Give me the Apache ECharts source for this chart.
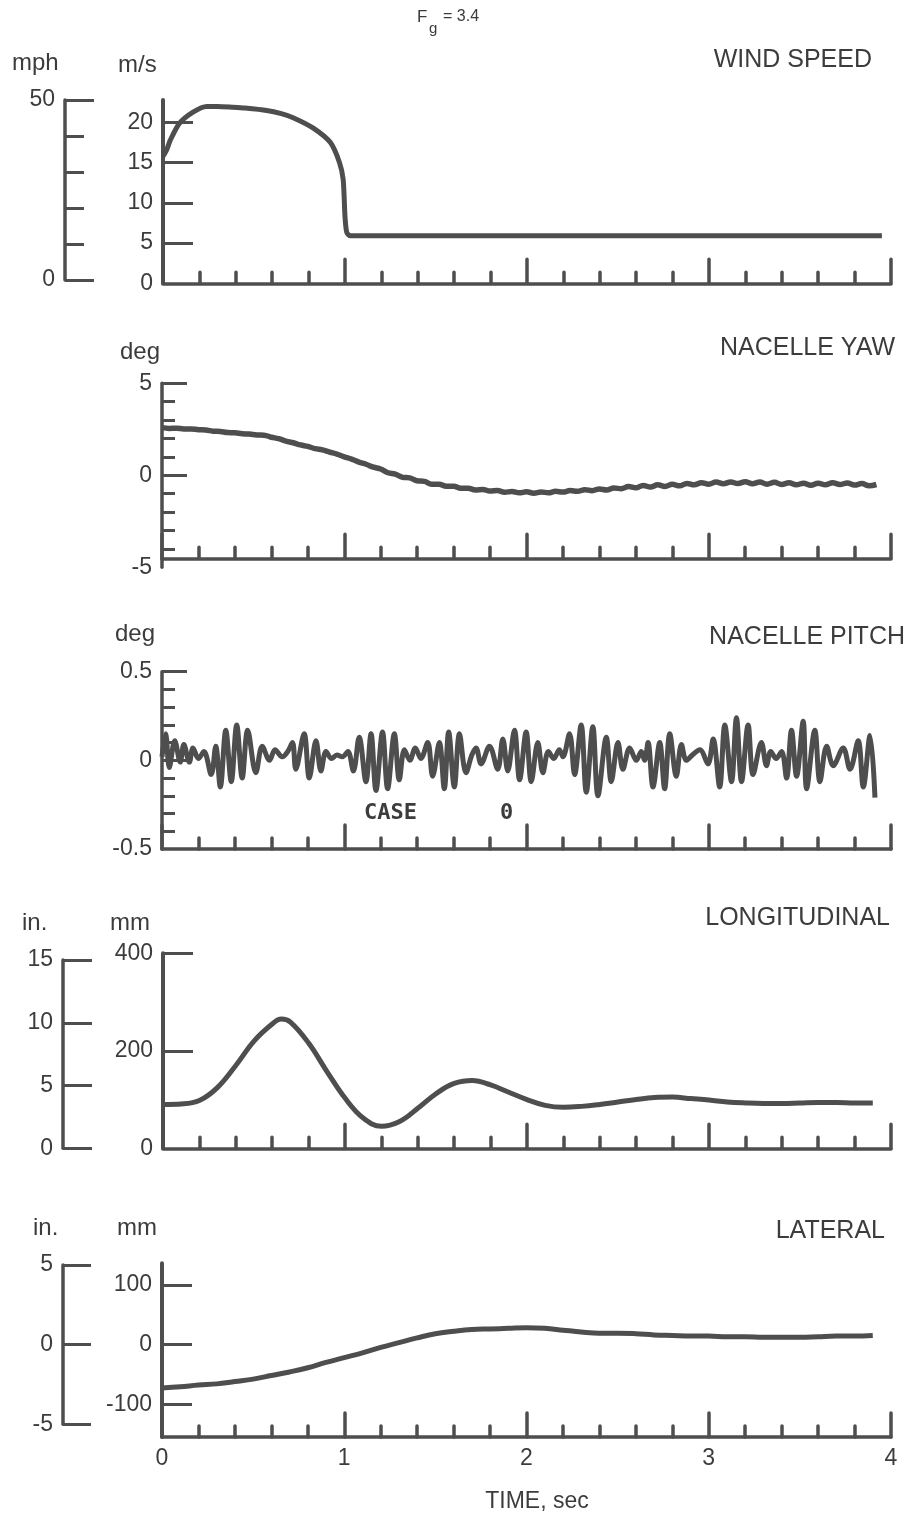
<!DOCTYPE html>
<html>
<head>
<meta charset="utf-8">
<script src="https://cdn.jsdelivr.net/npm/echarts@6/dist/echarts.min.js"></script>
<style>html,body{margin:0;padding:0;background:#fff}#c{width:911px;height:1518px}</style>
</head>
<body>
<div id="c"></div>
<script>
// ---------------- DATA ----------------
var timeTicks = [0, 1, 2, 3, 4];

// Wind speed, m/s
var windT = [0, 0.02, 0.04, 0.09, 0.165, 0.24, 0.3, 0.385, 0.45, 0.57, 0.65, 0.715, 0.826, 0.92, 0.97, 0.99, 1.0, 1.01, 1.03, 3.95];
var windV = [15.8, 16.6, 17.8, 19.9, 21.3, 22.0, 22.0, 21.9, 21.8, 21.5, 21.1, 20.6, 19.3, 17.5, 15.0, 12.9, 8.3, 6.3, 5.9, 5.9];

// Nacelle yaw, deg, sampled every YAW_DT s
var YAW_DT = 0.04;
var yawV = [2.59,2.55,2.56,2.52,2.52,2.48,2.46,2.40,2.38,2.32,2.31,2.26,2.24,2.19,2.18,2.07,1.99,1.86,1.77,1.65,
  1.57,1.45,1.38,1.26,1.15,1.00,0.88,0.72,0.60,0.44,0.34,0.14,0.06,-0.11,-0.14,-0.30,-0.33,-0.48,-0.48,-0.60,
  -0.59,-0.71,-0.70,-0.80,-0.77,-0.86,-0.83,-0.92,-0.88,-0.95,-0.90,-0.97,-0.91,-0.95,-0.87,-0.91,-0.83,-0.87,-0.78,-0.84,
  -0.74,-0.80,-0.69,-0.73,-0.61,-0.68,-0.55,-0.64,-0.52,-0.61,-0.49,-0.57,-0.44,-0.52,-0.40,-0.48,-0.37,-0.46,-0.36,-0.45,
  -0.35,-0.46,-0.37,-0.48,-0.38,-0.50,-0.41,-0.52,-0.43,-0.54,-0.43,-0.52,-0.41,-0.50,-0.42,-0.53,-0.45,-0.57,-0.50];

// Nacelle pitch, deg
var pitchT = [0,0.02,0.04,0.07,0.10,0.12,0.15,0.17,0.20,0.23,0.27,0.295,0.32,0.35,0.38,0.41,0.44,0.47,0.515,0.55,
  0.59,0.62,0.66,0.69,0.716,0.734,0.78,0.808,0.845,0.872,0.90,0.93,0.96,0.99,1.02,1.05,1.082,1.119,1.147,1.174,
  1.21,1.238,1.275,1.302,1.33,1.36,1.39,1.42,1.458,1.485,1.522,1.549,1.573,1.604,1.632,1.668,1.70,1.723,1.751,1.797,
  1.842,1.870,1.897,1.934,1.962,1.998,2.026,2.062,2.090,2.12,2.15,2.18,2.20,2.236,2.264,2.300,2.328,2.364,2.392,2.438,
  2.465,2.502,2.529,2.566,2.603,2.63,2.648,2.667,2.694,2.731,2.758,2.786,2.822,2.850,2.877,2.91,2.951,2.996,3.024,3.060,
  3.088,3.125,3.152,3.180,3.216,3.243,3.289,3.317,3.34,3.37,3.40,3.427,3.454,3.482,3.518,3.537,3.582,3.610,3.647,3.683,
  3.738,3.775,3.820,3.848,3.885,3.912];
var pitchV = [0.02,0.15,-0.04,0.11,-0.01,0.09,-0.01,0.07,0.01,0.05,-0.08,0.08,-0.15,0.17,-0.12,0.20,-0.10,0.17,-0.07,0.08,
  0.00,0.06,0.02,0.05,0.10,-0.05,0.15,-0.10,0.11,-0.06,0.05,0.01,0.03,0.02,0.05,-0.06,0.13,-0.12,0.15,-0.17,
  0.16,-0.16,0.15,-0.11,0.06,0.00,0.07,0.01,0.10,-0.09,0.10,-0.16,0.16,-0.15,0.15,-0.07,0.03,0.07,-0.02,0.08,
  -0.05,0.12,-0.06,0.17,-0.11,0.16,-0.12,0.10,-0.07,0.05,0.01,0.06,0.02,0.15,-0.08,0.20,-0.18,0.19,-0.20,0.13,
  -0.12,0.10,-0.05,0.07,0.00,0.05,0.00,0.10,-0.15,0.10,-0.16,0.15,-0.09,0.09,0.00,0.03,0.06,-0.02,0.12,-0.15,
  0.20,-0.12,0.24,-0.12,0.20,-0.08,0.10,-0.03,0.05,0.01,0.05,-0.10,0.17,-0.09,0.22,-0.16,0.17,-0.12,0.08,-0.03,
  0.07,-0.05,0.11,-0.15,0.14,-0.21];

// Longitudinal, mm
var longT = [0,0.1,0.2,0.3,0.4,0.5,0.6,0.65,0.7,0.8,0.9,1.0,1.1,1.2,1.3,1.4,1.5,1.6,1.7,1.8,1.9,2.0,2.1,2.2,2.3,2.4,2.5,2.6,2.7,2.8,2.9,3.0,3.1,3.2,3.3,3.4,3.5,3.6,3.7,3.8,3.9];
var longV = [90,91,98,125,170,220,255,265,259,216,158,103,62,45,55,82,112,133,139,130,115,100,88,84,86,90,95,100,104,105,102,99,95,93,92,92,93,94,94,93,93];

// Lateral, mm, sampled every LAT_DT s
var LAT_DT = 0.1;
var latV = [-73,-71,-68,-66,-62,-58,-52,-46,-39,-30,-22,-14,-5,3,11,18,22,25,26,27,28,27,24,21,19,19,18,16,15,14,14,13,13,12,12,12,13,14,14,15];

// ---------------- CHART ----------------
var INK = '#4e4e4e', TXT = '#3c3c3c', FONT = '"Liberation Sans", Arial, sans-serif';
function zipTV(t, v) { var out = []; for (var i = 0; i < Math.min(t.length, v.length); i++) out.push([t[i], v[i]]); return out; }
function stepped(v, dt) { var out = []; for (var i = 0; i < v.length; i++) out.push([+(i * dt).toFixed(3), v[i]]); return out; }

function timeAxis(gi, showLabels, offset) {
  return {
    gridIndex: gi, type: 'value', min: timeTicks[0], max: timeTicks[timeTicks.length - 1], interval: 1,
    offset: offset || 0,
    axisLine: { show: true, onZero: false, lineStyle: { color: INK, width: 3.5 } },
    axisTick: { show: true, inside: true, length: 24, lineStyle: { color: INK, width: 3.5, cap: 'round' } },
    minorTick: { show: true, splitNumber: 5, length: 11, lineStyle: { color: INK, width: 3.5, cap: 'round' } },
    axisLabel: { show: showLabels, color: TXT, fontSize: 23, fontFamily: FONT, margin: 10 },
    splitLine: { show: false }, minorSplitLine: { show: false }
  };
}
function hiddenX(gi) { return { gridIndex: gi, type: 'value', show: false, min: 0, max: 1 }; }
function valAxis(o) {
  var a = {
    gridIndex: o.gi, type: 'value', position: 'left', min: o.min, max: o.max, interval: o.interval,
    axisLine: { show: o.line !== false, onZero: false, lineStyle: { color: INK, width: o.lw || 3.5 } },
    axisTick: { show: true, inside: true, length: o.tl || 28, lineStyle: { color: INK, width: 3 } },
    axisLabel: { show: o.labels !== false, color: TXT, fontSize: 23, fontFamily: FONT, margin: 10 },
    splitLine: { show: false }
  };
  if (o.tickVals) a.axisTick.customValues = o.tickVals;
  if (o.labelVals) a.axisLabel.customValues = o.labelVals;
  if (o.minor) a.minorTick = { show: true, splitNumber: o.minor, length: 13, lineStyle: { color: INK, width: 3 } };
  return a;
}
function txt(s, x, y, size, align, extra) {
  var st = { text: s, x: x, y: y, fill: TXT, font: (extra && extra.font) || (size + 'px ' + FONT),
    align: align || 'left', verticalAlign: 'middle', textAlign: align || 'left', textVerticalAlign: 'middle' };
  return { type: 'text', silent: true, style: st };
}

var grids = [
  { left: 163, top: 100, width: 728, height: 183.3 },   // 0 wind m/s
  { left: 65, top: 100, width: 30, height: 180 },       // 1 wind mph
  { left: 162, top: 383.3, width: 729, height: 184 },   // 2 yaw
  { left: 162, top: 671.7, width: 729, height: 177.3 }, // 3 pitch
  { left: 163, top: 953.3, width: 728, height: 195 },   // 4 longitudinal mm
  { left: 63, top: 960, width: 30, height: 188.3 },     // 5 longitudinal in.
  { left: 162, top: 1263.3, width: 729, height: 173.7 },// 6 lateral mm
  { left: 63, top: 1265, width: 30, height: 159.3 }     // 7 lateral in.
];
grids.forEach(function (g) { g.containLabel = false; g.outerBoundsMode = 'none'; });

var option = {
  animation: false,
  backgroundColor: '#ffffff',
  grid: grids,
  xAxis: [
    timeAxis(0, false), hiddenX(1), timeAxis(2, false, -9), timeAxis(3, false),
    timeAxis(4, false), hiddenX(5), timeAxis(6, true), hiddenX(7)
  ],
  yAxis: [
    valAxis({ gi: 0, min: 0, max: 22.8, interval: 5, tl: 30, lw: 4, tickVals: [5, 10, 15, 20], labelVals: [0, 5, 10, 15, 20] }), // 0
    valAxis({ gi: 1, min: 0, max: 50, interval: 10, tl: 19, labelVals: [0, 50] }),                                           // 1
    valAxis({ gi: 1, min: 0, max: 50, interval: 10, tl: 29, line: false, labels: false, tickVals: [0, 50] }),                 // 2
    valAxis({ gi: 2, min: -5, max: 5, interval: 5, tl: 25, tickVals: [0, 5], minor: 5 }),                                    // 3
    valAxis({ gi: 3, min: -0.5, max: 0.5, interval: 0.5, tl: 25, tickVals: [0, 0.5], minor: 5 }),                             // 4
    valAxis({ gi: 4, min: 0, max: 400, interval: 200, tl: 30, lw: 4, tickVals: [200, 400] }),                                 // 5
    valAxis({ gi: 5, min: 0, max: 15, interval: 5, tl: 29 }),                                                                 // 6
    valAxis({ gi: 6, min: -155, max: 136, interval: 100, tl: 30, lw: 4, tickVals: [-100, 0, 100], labelVals: [-100, 0, 100] }), // 7
    valAxis({ gi: 7, min: -5, max: 5, interval: 5, tl: 28 })                                                                  // 8
  ],
  series: [
    { type: 'line', xAxisIndex: 0, yAxisIndex: 0, data: zipTV(windT, windV), showSymbol: false, smooth: 0.25,
      lineStyle: { color: INK, width: 5 } },
    { type: 'line', xAxisIndex: 2, yAxisIndex: 3, data: stepped(yawV, YAW_DT), showSymbol: false, smooth: 0.4,
      lineStyle: { color: INK, width: 5.5 } },
    { type: 'line', xAxisIndex: 3, yAxisIndex: 4, data: zipTV(pitchT, pitchV), showSymbol: false, smooth: 0.35,
      lineStyle: { color: INK, width: 5 } },
    { type: 'line', xAxisIndex: 4, yAxisIndex: 5, data: zipTV(longT, longV), showSymbol: false, smooth: 0.4,
      lineStyle: { color: INK, width: 5 } },
    { type: 'line', xAxisIndex: 6, yAxisIndex: 7, data: stepped(latV, LAT_DT), showSymbol: false, smooth: 0.4,
      lineStyle: { color: INK, width: 5 } }
  ],
  graphic: [
    txt('F', 417, 17, 17),
    txt('g', 429, 29, 15),
    txt('= 3.4', 443, 17, 16),
    txt('mph', 12, 63, 24),
    txt('m/s', 118, 65, 24),
    txt('WIND SPEED', 872, 60, 25, 'right'),
    txt('deg', 120, 352, 24),
    txt('NACELLE YAW', 895, 348, 25, 'right'),
    txt('deg', 115, 634, 24),
    txt('NACELLE PITCH', 905, 637, 25, 'right'),
    txt('CASE', 364, 813, 22, 'left', { font: 'bold 22px "DejaVu Sans Mono", monospace' }),
    txt('0', 500, 813, 22, 'left', { font: 'bold 22px "DejaVu Sans Mono", monospace' }),
    txt('in.', 22, 923, 24),
    txt('mm', 110, 923, 24),
    txt('LONGITUDINAL', 890, 918, 25, 'right'),
    txt('in.', 33, 1228, 24),
    txt('mm', 117, 1228, 24),
    txt('LATERAL', 885, 1231, 25, 'right'),
    txt('TIME, sec', 537, 1502, 23, 'center')
  ]
};

var chart = echarts.init(document.getElementById('c'), null, { renderer: 'canvas', width: 911, height: 1518 });
chart.setOption(option);
</script>
</body>
</html>
